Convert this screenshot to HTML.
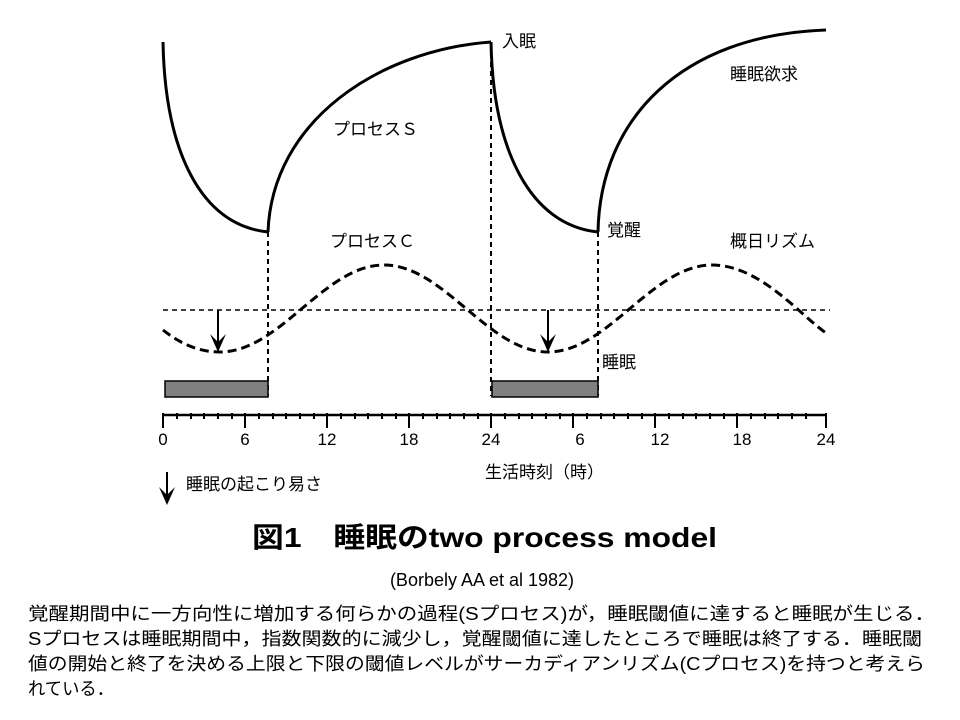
<!DOCTYPE html>
<html><head><meta charset="utf-8"><style>
html,body{margin:0;padding:0;background:#fff;width:960px;height:720px;overflow:hidden}
svg text{font-family:"Liberation Sans","Noto Sans CJK JP",sans-serif;fill:#000}
</style></head><body>
<svg width="960" height="720" viewBox="0 0 960 720" xmlns="http://www.w3.org/2000/svg">
<g stroke="#000" stroke-width="2" stroke-dasharray="5,4" fill="none">
<line x1="268" y1="232" x2="268" y2="396"/>
<line x1="491" y1="44" x2="491" y2="396"/>
<line x1="598" y1="232" x2="598" y2="396"/>
</g>
<line x1="163" y1="310" x2="830" y2="310" stroke="#000" stroke-width="1.5" stroke-dasharray="5,4"/>
<path d="M163,330 C182,345 200,352 220,352 C280,352 324,265 384,265 C444,265 488,352 548,352 C608,352 652,265 712,265 C760,265 800,315 826,333" fill="none" stroke="#000" stroke-width="3" stroke-dasharray="9,5"/>
<g stroke="#000" stroke-width="3" fill="none">
<path d="M163,42 C165,150 200,225 268,232"/>
<path d="M268,232 C272,120 380,50 491,42"/>
<path d="M491,42 C493,150 530,225 598,232"/>
<path d="M598,232 C600,120 680,35 826,30"/>
</g>
<g stroke="#000" stroke-width="2">
<line x1="218" y1="310" x2="218" y2="350"/>
<line x1="548" y1="310" x2="548" y2="350"/>
<line x1="167" y1="472" x2="167" y2="503"/>
</g>
<g fill="#000">
<polygon points="210,334 218,352 226,334 218,342"/>
<polygon points="540,334 548,352 556,334 548,342"/>
<polygon points="159,487 167,505 175,487 167,495"/>
</g>
<rect x="165" y="381" width="103" height="16" fill="#808080" stroke="#000" stroke-width="1.5"/>
<rect x="492" y="381" width="106" height="16" fill="#808080" stroke="#000" stroke-width="1.5"/>
<line x1="163" y1="415" x2="827" y2="415" stroke="#000" stroke-width="2.5"/>
<g stroke="#000" stroke-width="2">
<path d="M163,413v15 M177,413v6 M191,413v6 M204,413v6 M218,413v6 M232,413v6 M245,413v6 M259,413v6 M273,413v6 M286,413v6 M300,413v6 M314,413v6 M327,413v15 M341,413v6 M355,413v6 M368,413v6 M382,413v6 M396,413v6 M409,413v6 M423,413v6 M437,413v6 M450,413v6 M464,413v6 M478,413v6 M491,413v15 M505,413v6 M519,413v6 M532,413v6 M546,413v6 M560,413v6 M573,413v6 M587,413v6 M601,413v6 M614,413v6 M628,413v6 M642,413v6 M655,413v15 M669,413v6 M683,413v6 M696,413v6 M710,413v6 M724,413v6 M737,413v6 M751,413v6 M765,413v6 M778,413v6 M792,413v6 M806,413v6 M826,413v15 M245,413v15 M409,413v15 M573,413v15 M737,413v15"/>
</g>
<g font-size="17" text-anchor="middle">
<text x="163" y="445">0</text><text x="245" y="445">6</text><text x="327" y="445">12</text><text x="409" y="445">18</text><text x="491" y="445">24</text>
<text x="580" y="445">6</text><text x="660" y="445">12</text><text x="742" y="445">18</text><text x="826" y="445">24</text>
</g>
<g font-size="17">
<text x="502" y="47">入眠</text>
<text x="730" y="80">睡眠欲求</text>
<text x="333" y="135">プロセスＳ</text>
<text x="330" y="247">プロセスＣ</text>
<text x="607" y="236">覚醒</text>
<text x="730" y="247">概日リズム</text>
<text x="602" y="368">睡眠</text>
<text x="485" y="478">生活時刻（時）</text>
<text x="186" y="490">睡眠の起こり易さ</text>
</g>
<text x="252" y="547" font-size="28" font-weight="bold" textLength="465" lengthAdjust="spacingAndGlyphs">図1　睡眠のtwo process model</text>
<text x="482" y="586" font-size="18" text-anchor="middle">(Borbely AA et al 1982)</text>
<g font-size="18">
<text x="28" y="620" textLength="907" lengthAdjust="spacingAndGlyphs">覚醒期間中に一方向性に増加する何らかの過程(Sプロセス)が，睡眠閾値に達すると睡眠が生じる．</text>
<text x="28" y="645" textLength="894" lengthAdjust="spacingAndGlyphs">Sプロセスは睡眠期間中，指数関数的に減少し，覚醒閾値に達したところで睡眠は終了する．睡眠閾</text>
<text x="28" y="670" textLength="897" lengthAdjust="spacingAndGlyphs">値の開始と終了を決める上限と下限の閾値レベルがサーカディアンリズム(Cプロセス)を持つと考えら</text>
<text x="28" y="695" textLength="86" lengthAdjust="spacingAndGlyphs">れている．</text>
</g>
</svg>
</body></html>
